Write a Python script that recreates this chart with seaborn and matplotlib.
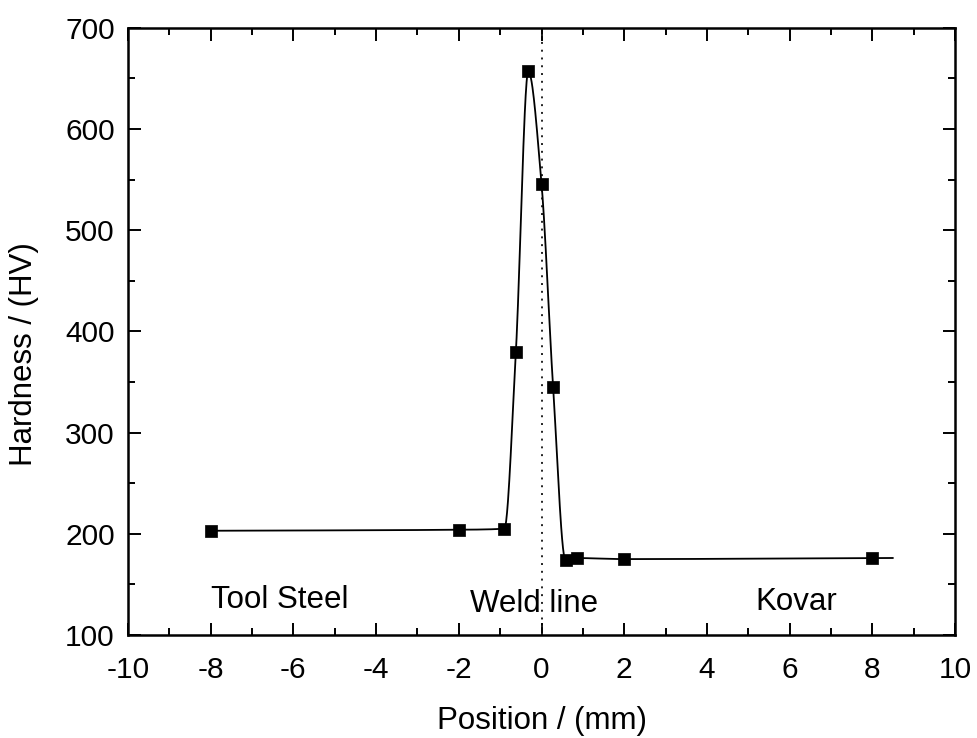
import numpy as np
import pandas as pd
import matplotlib
matplotlib.use("Agg")
import matplotlib.pyplot as plt
from matplotlib.ticker import MultipleLocator
import seaborn as sns

# Microhardness traverse across the weld
position_mm = [-8.0, -2.0, -0.9, -0.62, -0.32, 0.0, 0.28, 0.58, 0.86, 2.0, 8.0]
hardness_hv = [203, 204, 205, 380, 657, 546, 345, 174, 176, 175, 176]

region_labels = ["Tool Steel", "Weld line", "Kovar"]
region_label_x = [-8.0, -1.73, 5.17]
region_label_y = [127, 123, 125]

x_ticks = list(range(-10, 11, 2))
y_ticks = list(range(100, 701, 100))
curve_end_mm = 8.5


def pchip(x, y, xq):
    """Monotone piecewise-cubic Hermite curve through (x, y)."""
    x = np.asarray(x, float)
    y = np.asarray(y, float)
    h = np.diff(x)
    d = np.diff(y) / h
    n = len(x)
    m = np.zeros(n)
    for k in range(1, n - 1):
        if d[k - 1] * d[k] > 0:
            w1 = 2 * h[k] + h[k - 1]
            w2 = h[k] + 2 * h[k - 1]
            m[k] = (w1 + w2) / (w1 / d[k - 1] + w2 / d[k])
    m[0] = d[0]
    m[-1] = d[-1]
    xq = np.asarray(xq, float)
    idx = np.clip(np.searchsorted(x, xq) - 1, 0, n - 2)
    t = (xq - x[idx]) / h[idx]
    h00 = 2 * t**3 - 3 * t**2 + 1
    h10 = t**3 - 2 * t**2 + t
    h01 = -2 * t**3 + 3 * t**2
    h11 = t**3 - t**2
    return (h00 * y[idx] + h10 * h[idx] * m[idx]
            + h01 * y[idx + 1] + h11 * h[idx] * m[idx + 1])


points = pd.DataFrame({"Position": position_mm, "Hardness": hardness_hv})
xs = np.linspace(min(position_mm), curve_end_mm, 1500)
curve = pd.DataFrame({"Position": xs, "Hardness": pchip(position_mm, hardness_hv, xs)})

sns.set_theme(style="white")
plt.rcParams["font.family"] = ["Liberation Sans", "DejaVu Sans"]
plt.rcParams["axes.unicode_minus"] = False

fig = plt.figure(figsize=(9.78, 7.38), dpi=100)
ax = fig.add_axes([0.1309, 0.1396, 0.8456, 0.8227])

ax.axvline(0, color="#222222", lw=1.4, ls=(0, (1, 3)), zorder=1)
sns.lineplot(data=curve, x="Position", y="Hardness", ax=ax, color="black",
             lw=1.3, sort=True, estimator=None, zorder=2)
sns.scatterplot(data=points, x="Position", y="Hardness", ax=ax, marker="s",
                s=85, color="black", edgecolor="black", linewidth=0.5, zorder=3)

for lbl, lx, ly in zip(region_labels, region_label_x, region_label_y):
    ax.text(lx, ly, lbl, fontsize=22.5, ha="left", va="baseline", color="black")

ax.set_xlim(-10, 10)
ax.set_ylim(100, 700)
ax.set_xticks(x_ticks)
ax.set_yticks(y_ticks)
ax.xaxis.set_minor_locator(MultipleLocator(1))
ax.yaxis.set_minor_locator(MultipleLocator(50))
ax.tick_params(which="both", direction="in", top=True, right=True,
               bottom=True, left=True, width=1.4, color="black")
ax.tick_params(which="major", length=9, labelsize=21.5, labelcolor="black")
ax.tick_params(which="minor", length=5)
ax.tick_params(axis="x", which="major", pad=15)
ax.tick_params(axis="y", which="major", pad=9.5)

for sp in ax.spines.values():
    sp.set_linewidth(1.8)
    sp.set_color("black")

ax.set_xlabel("Position / (mm)", fontsize=22.5, labelpad=16, color="black")
ax.set_ylabel("Hardness / (HV)", fontsize=22.5, color="black")
ax.yaxis.set_label_coords(-0.108, 0.463)

fig.savefig("out.png", dpi=100)
